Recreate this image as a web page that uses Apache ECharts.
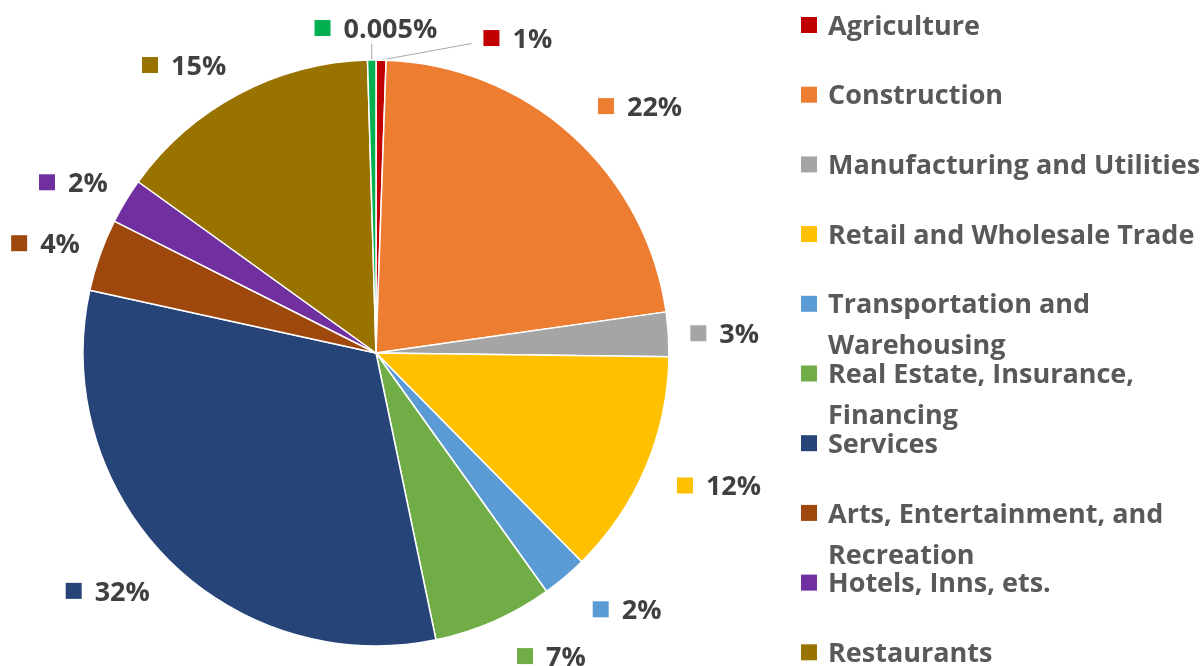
<!DOCTYPE html>
<html>
<head>
<meta charset="utf-8">
<script src="https://cdn.jsdelivr.net/npm/echarts@6/dist/echarts.min.js"></script>
<style>
  html, body { margin: 0; padding: 0; background: #fff; }
  #chart { width: 1203px; height: 666px; }
</style>
</head>
<body>
<div id="chart"></div>
<script>
// Sectors, clockwise from 12 o'clock (shares in %)
const categories = [
  "Agriculture",
  "Construction",
  "Manufacturing and Utilities",
  "Retail and Wholesale Trade",
  "Transportation and\nWarehousing",
  "Real Estate, Insurance,\nFinancing",
  "Services",
  "Arts, Entertainment, and\nRecreation",
  "Hotels, Inns, ets.",
  "Restaurants",
  "Other"
];
const shares = [0.55, 22.2, 2.45, 12.4, 2.5, 6.6, 31.7, 4.0, 2.5, 14.6, 0.46];
const labelTexts = ["1%", "22%", "3%", "12%", "2%", "7%", "32%", "4%", "2%", "15%", "0.005%"];
const colors = [
  "#c00000", "#ed7d31", "#a5a5a5", "#ffc000", "#5b9bd5",
  "#70ad47", "#264478", "#9e480e", "#7030a0", "#997300", "#00b050"
];

// label placement: radial leg / horizontal leg per slice (px)
const legOut = [22, 39, 17, 45, 42, 38, 45, 35, 36, 33, 32];
const legSide = [102, 0, 5, -10, 1, 8, -14, -13, -13, -3, -66];
const withLeader = [0, 10];

const FONT = "'Open Sans'";
const FONT_SIZE = 27;
const cx = 376, cy = 353, radius = 293;

const rich = { t: { fontFamily: FONT, fontWeight: "bold", fontSize: FONT_SIZE, color: "#404040", padding: [4, 0, 0, 13], verticalAlign: "middle" } };
colors.forEach((c, i) => {
  rich["m" + i] = { width: 16, height: 16, backgroundColor: c, verticalAlign: "middle" };
});

function legendGraphics() {
  const out = [];
  categories.forEach((name, i) => {
    const yc = 25 + i * 69.7;
    out.push({
      type: "rect",
      shape: { x: 801, y: yc - 8, width: 16, height: 16 },
      style: { fill: colors[i] },
      silent: true
    });
    name.split("\n").forEach((line, j) => {
      out.push({
        type: "text",
        x: 828,
        y: yc + 2 + j * 41,
        style: {
          text: line,
          fill: "#595959",
          font: `bold ${FONT_SIZE}px ${FONT}`,
          align: "left",
          verticalAlign: "middle",
          textAlign: "left",
          textVerticalAlign: "middle"
        },
        silent: true
      });
    });
  });
  return out;
}

const chart = echarts.init(document.getElementById("chart"));
chart.setOption({
  animation: false,
  graphic: legendGraphics(),
  series: [{
    type: "pie",
    center: [cx, cy],
    radius: radius,
    startAngle: 90,
    clockwise: true,
    avoidLabelOverlap: false,
    itemStyle: { borderColor: "#fff", borderWidth: 1.5 },
    label: {
      show: true,
      position: "outside",
      distanceToLabelLine: 0,
      formatter: (p) => `{m${p.dataIndex}|}{t|${labelTexts[p.dataIndex]}}`,
      rich: rich
    },
    labelLine: {
      show: false,
      minTurnAngle: 0,
      maxSurfaceAngle: 180,
      lineStyle: { color: "#a6a6a6", width: 1 }
    },
    labelLayout: (p) => {
      const pts = p.labelLinePoints;
      if (!pts) return {};
      const r = p.labelRect;
      let end;
      if (p.dataIndex === 10) end = [pts[0][0], r.y + r.height];
      else end = [r.x - 12, r.y + r.height - 10];
      return { labelLinePoints: [pts[0], end, end] };
    },
    data: categories.map((name, i) => ({
      name: name,
      value: shares[i],
      itemStyle: { color: colors[i] },
      labelLine: {
        show: withLeader.includes(i),
        length: legOut[i],
        length2: legSide[i]
      }
    }))
  }]
});
</script>
</body>
</html>
